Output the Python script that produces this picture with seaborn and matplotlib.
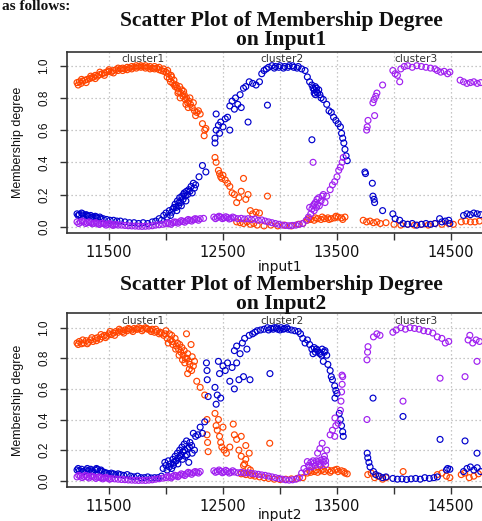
import matplotlib
matplotlib.use("Agg")
import matplotlib.pyplot as plt
import pandas as pd
import seaborn as sns

# ---------------- data ----------------
clusters = ["cluster1", "cluster2", "cluster3"]
palette = {"cluster1": "#FF4500", "cluster2": "#0000CD", "cluster3": "#A020F0"}
cluster_label_x = [11800, 13020, 14190]
x_ticks = [11500, 12000, 12500, 13000, 13500, 14000, 14500]
x_tick_labels = ["11500", "", "12500", "", "13500", "", "14500"]
y_ticks = [0.0, 0.2, 0.4, 0.6, 0.8, 1.0]
y_tick_labels = ["0.0", "0.2", "0.4", "0.6", "0.8", "1.0"]
panel_titles = ["Scatter Plot of Membership Degree\non Input1",
                "Scatter Plot of Membership Degree\non Input2"]
x_labels = ["input1", "input2"]
y_label = "Membership degree"

# Input1 panel
in1_c1 = [(11220, 0.895), (11240, 0.90), (11255, 0.89), (11270, 0.905), (11290, 0.91), (11310, 0.915),
          (11330, 0.92), (11350, 0.925), (11365, 0.93), (11380, 0.94), (11400, 0.935), (11420, 0.945),
          (11440, 0.95), (11460, 0.955), (11480, 0.96), (11500, 0.965), (11520, 0.96), (11540, 0.97),
          (11560, 0.975), (11580, 0.97), (11600, 0.98), (11620, 0.985), (11640, 0.98), (11660, 0.99),
          (11680, 0.985), (11700, 0.995), (11720, 0.99), (11740, 1.0), (11760, 0.995), (11780, 1.0),
          (11800, 0.995), (11820, 1.0), (11840, 0.99), (11860, 0.995), (11880, 0.985), (11900, 0.98),
          (11920, 0.985), (11940, 0.975), (11960, 0.97), (11980, 0.965), (12000, 0.96), (12010, 0.93),
          (12020, 0.95), (12030, 0.92), (12040, 0.90), (12050, 0.93), (12060, 0.89), (12070, 0.91),
          (12080, 0.87), (12090, 0.88), (12100, 0.86), (12110, 0.84), (12120, 0.87), (12130, 0.83),
          (12140, 0.85), (12150, 0.81), (12160, 0.82), (12170, 0.79), (12180, 0.80), (12190, 0.77),
          (12200, 0.78), (12215, 0.76), (12230, 0.74), (12250, 0.72), (12270, 0.71), (12300, 0.70),
          (12320, 0.64), (12340, 0.60), (12350, 0.61), (12335, 0.565), (12430, 0.43), (12440, 0.40),
          (12460, 0.35), (12470, 0.33), (12480, 0.31), (12490, 0.30), (12500, 0.32), (12520, 0.29),
          (12540, 0.27), (12560, 0.25), (12580, 0.21), (12600, 0.20), (12620, 0.15), (12640, 0.18),
          (12660, 0.22), (12680, 0.30), (12700, 0.17), (12720, 0.20), (12740, 0.10), (12760, 0.08),
          (12790, 0.09), (12820, 0.085), (12890, 0.19), (12620, 0.03), (12680, 0.02), (12740, 0.015),
          (12800, 0.01), (12860, 0.005), (12920, 0.01), (12980, 0.005), (13040, 0.01), (13100, 0.005),
          (13160, 0.015), (13200, 0.02), (13240, 0.04), (13270, 0.045), (13300, 0.04), (13330, 0.05),
          (13360, 0.045), (13390, 0.05), (13420, 0.055), (13450, 0.05), (13480, 0.055), (13510, 0.06),
          (13540, 0.055), (13570, 0.06), (13730, 0.04), (13760, 0.03), (13790, 0.035), (13820, 0.025),
          (13850, 0.03), (13880, 0.02), (13930, 0.025), (14000, 0.015), (14060, 0.01), (14120, 0.015),
          (14180, 0.01), (14240, 0.015), (14300, 0.01), (14360, 0.02), (14420, 0.015), (14480, 0.02),
          (14520, 0.015), (14590, 0.03), (14630, 0.035), (14670, 0.03), (14710, 0.03), (14750, 0.035),
          (11230, 0.88), (11260, 0.915), (11300, 0.895), (11340, 0.935), (11380, 0.92), (11420, 0.96),
          (11460, 0.94), (11500, 0.975), (11540, 0.955), (11580, 0.985), (11620, 0.97), (11660, 0.975),
          (11700, 0.98), (11740, 0.985), (11780, 0.99), (11820, 0.985), (11860, 0.98), (11900, 0.995),
          (11940, 0.99), (11980, 0.98), (12015, 0.97), (12045, 0.94), (12075, 0.88), (12105, 0.83),
          (12125, 0.80), (12155, 0.84), (12175, 0.76), (12195, 0.74), (12210, 0.80), (12240, 0.77),
          (12260, 0.69), (12285, 0.72), (12650, 0.025), (12710, 0.03), (12770, 0.02), (13250, 0.05),
          (13310, 0.055), (13370, 0.06), (13430, 0.045), (13490, 0.065), (13550, 0.045)]

in1_c2 = [(11220, 0.08), (11240, 0.075), (11260, 0.085), (11280, 0.07), (11300, 0.075), (11320, 0.065),
          (11340, 0.07), (11360, 0.06), (11380, 0.065), (11400, 0.055), (11420, 0.06), (11450, 0.05),
          (11480, 0.045), (11510, 0.04), (11540, 0.04), (11570, 0.035), (11600, 0.035), (11640, 0.03),
          (11680, 0.025), (11720, 0.025), (11760, 0.02), (11800, 0.025), (11840, 0.02), (11880, 0.03),
          (11910, 0.035), (11940, 0.05), (11960, 0.04), (11980, 0.07), (12000, 0.085), (12010, 0.06),
          (12030, 0.10), (12050, 0.09), (12060, 0.11), (12080, 0.14), (12090, 0.12), (12100, 0.16),
          (12110, 0.13), (12120, 0.18), (12130, 0.15), (12140, 0.19), (12150, 0.17), (12160, 0.21),
          (12170, 0.19), (12180, 0.22), (12200, 0.23), (12220, 0.25), (12240, 0.27), (12260, 0.26),
          (12290, 0.31), (12320, 0.38), (12350, 0.34), (12430, 0.52), (12430, 0.55), (12440, 0.60),
          (12440, 0.70), (12460, 0.63), (12470, 0.58), (12480, 0.65), (12500, 0.62), (12520, 0.67),
          (12540, 0.68), (12560, 0.60), (12560, 0.75), (12580, 0.78), (12600, 0.73), (12610, 0.80),
          (12630, 0.76), (12650, 0.82), (12660, 0.74), (12680, 0.86), (12700, 0.87), (12720, 0.65),
          (12730, 0.90), (12760, 0.89), (12790, 0.88), (12820, 0.90), (12840, 0.95), (12860, 0.97),
          (12880, 0.98), (12890, 0.755), (12900, 0.99), (12930, 1.0), (12960, 0.995), (13000, 1.0),
          (13040, 0.995), (13080, 1.0), (13120, 0.99), (13160, 0.995), (13190, 0.98), (13220, 0.97),
          (13240, 0.93), (13260, 0.90), (13280, 0.88), (13290, 0.86), (13300, 0.85), (13310, 0.87),
          (13320, 0.84), (13330, 0.83), (13350, 0.82), (13380, 0.79), (13410, 0.76), (13430, 0.72),
          (13450, 0.71), (13470, 0.68), (13490, 0.66), (13510, 0.64), (13530, 0.62), (13540, 0.58),
          (13550, 0.55), (13560, 0.52), (13570, 0.48), (13580, 0.44), (13590, 0.41), (13280, 0.54),
          (13745, 0.34), (13750, 0.33), (13810, 0.27), (13815, 0.19), (13825, 0.17), (13830, 0.15),
          (13900, 0.10), (13990, 0.08), (14010, 0.05), (14050, 0.04), (14080, 0.02), (14120, 0.015),
          (14160, 0.02), (14200, 0.01), (14240, 0.015), (14280, 0.02), (14320, 0.015), (14360, 0.02),
          (14400, 0.05), (14420, 0.03), (14450, 0.035), (14480, 0.04), (14490, 0.02), (14610, 0.07),
          (14640, 0.08), (14670, 0.075), (14700, 0.085), (14730, 0.08), (14760, 0.075),
          (11230, 0.07), (11270, 0.08), (11310, 0.07), (11350, 0.06), (11390, 0.06), (11430, 0.05),
          (12040, 0.07), (12070, 0.12), (12095, 0.10), (12115, 0.15), (12135, 0.13), (12155, 0.20),
          (12175, 0.16), (12190, 0.20), (12210, 0.22), (12230, 0.21), (12250, 0.24), (12950, 0.985),
          (12990, 0.99), (13030, 0.985), (13070, 0.99), (13110, 1.0), (13150, 0.985), (13300, 0.83),
          (13320, 0.86), (13340, 0.85), (13310, 0.82), (13360, 0.80)]

in1_c3 = [(11220, 0.03), (11250, 0.028), (11280, 0.03), (11310, 0.025), (11340, 0.025), (11370, 0.022),
          (11400, 0.02), (11430, 0.02), (11460, 0.018), (11490, 0.015), (11520, 0.015), (11550, 0.012),
          (11580, 0.01), (11610, 0.01), (11640, 0.008), (11670, 0.006), (11700, 0.005), (11730, 0.004),
          (11760, 0.003), (11790, 0.002), (11820, 0.003), (11850, 0.004), (11880, 0.006), (11910, 0.01),
          (11940, 0.012), (11970, 0.015), (12000, 0.018), (12030, 0.02), (12060, 0.025), (12090, 0.028),
          (12120, 0.03), (12150, 0.033), (12180, 0.037), (12210, 0.04), (12240, 0.043), (12270, 0.047),
          (12300, 0.05), (12330, 0.052), (12420, 0.06), (12450, 0.058), (12480, 0.06), (12510, 0.055),
          (12540, 0.057), (12570, 0.052), (12600, 0.055), (12630, 0.05), (12660, 0.052), (12690, 0.048),
          (12720, 0.05), (12750, 0.045), (12780, 0.048), (12810, 0.04), (12840, 0.042), (12870, 0.035),
          (12900, 0.03), (12930, 0.025), (12960, 0.02), (12990, 0.015), (13020, 0.01), (13050, 0.008),
          (13080, 0.006), (13110, 0.008), (13140, 0.01), (13170, 0.015), (13200, 0.02), (13230, 0.04),
          (13250, 0.06), (13270, 0.08), (13280, 0.11), (13290, 0.13), (13300, 0.10), (13310, 0.15),
          (13320, 0.12), (13330, 0.14), (13340, 0.18), (13360, 0.16), (13380, 0.20), (13410, 0.19),
          (13440, 0.23), (13460, 0.26), (13480, 0.28), (13500, 0.31), (13515, 0.35), (13530, 0.37),
          (13545, 0.40), (13555, 0.43), (13290, 0.40), (13760, 0.60), (13765, 0.62), (13772, 0.66),
          (13830, 0.69), (13815, 0.77), (13825, 0.79), (13840, 0.81), (13850, 0.83), (13900, 0.88),
          (13990, 0.97), (14010, 0.95), (14030, 0.94), (14050, 0.90), (14060, 0.98), (14090, 0.995),
          (14120, 1.0), (14160, 0.99), (14200, 1.0), (14240, 0.995), (14280, 0.99), (14320, 0.985),
          (14360, 0.98), (14380, 0.97), (14410, 0.96), (14440, 0.965), (14470, 0.95), (14490, 0.96),
          (14580, 0.91), (14610, 0.90), (14640, 0.89), (14670, 0.895), (14700, 0.90), (14730, 0.89),
          (14760, 0.895),
          (11235, 0.02), (11265, 0.035), (11295, 0.02), (11325, 0.03), (11355, 0.018), (11385, 0.025),
          (11415, 0.014), (11445, 0.022), (11475, 0.01), (11505, 0.02), (11535, 0.008), (11565, 0.015),
          (12015, 0.025), (12045, 0.015), (12075, 0.03), (12105, 0.022), (12135, 0.038), (12165, 0.028),
          (12195, 0.045), (12225, 0.035), (12255, 0.05), (12285, 0.04), (12435, 0.05), (12465, 0.065),
          (12495, 0.05), (12525, 0.062), (12555, 0.048), (12585, 0.06), (13260, 0.12), (13300, 0.14),
          (13325, 0.17), (13345, 0.13), (13370, 0.19), (13395, 0.15)]

# Input2 panel
in2_c1 = [(11220, 0.90), (11240, 0.91), (11260, 0.895), (11280, 0.90), (11300, 0.915), (11320, 0.905),
          (11340, 0.92), (11360, 0.91), (11380, 0.93), (11400, 0.935), (11420, 0.925), (11440, 0.94),
          (11460, 0.95), (11480, 0.945), (11500, 0.96), (11520, 0.955), (11540, 0.965), (11560, 0.975),
          (11580, 0.97), (11600, 0.98), (11620, 0.975), (11640, 0.985), (11660, 0.98), (11680, 0.99),
          (11700, 0.985), (11720, 0.995), (11740, 0.99), (11760, 1.0), (11780, 0.995), (11800, 0.99),
          (11820, 1.0), (11840, 0.99), (11860, 0.985), (11880, 0.99), (11900, 0.97), (11920, 0.975),
          (11940, 0.96), (11960, 0.965), (11980, 0.95), (12000, 0.98), (12010, 0.93), (12030, 0.96),
          (12040, 0.92), (12050, 0.95), (12060, 0.89), (12080, 0.93), (12090, 0.88), (12100, 0.90),
          (12110, 0.86), (12120, 0.89), (12130, 0.84), (12140, 0.87), (12150, 0.82), (12160, 0.85),
          (12170, 0.80), (12180, 0.96), (12190, 0.83), (12200, 0.78), (12210, 0.76), (12220, 0.89),
          (12230, 0.81), (12240, 0.75), (12190, 0.70), (12270, 0.65), (12300, 0.61), (12340, 0.56),
          (12360, 0.40), (12360, 0.30), (12365, 0.25), (12370, 0.19), (12430, 0.44), (12440, 0.36),
          (12450, 0.33), (12460, 0.40), (12470, 0.29), (12480, 0.25), (12490, 0.22), (12500, 0.35),
          (12510, 0.20), (12530, 0.18), (12560, 0.22), (12590, 0.37), (12600, 0.30), (12620, 0.27),
          (12640, 0.20), (12660, 0.16), (12680, 0.10), (12700, 0.14), (12660, 0.29), (12700, 0.23),
          (12730, 0.18), (12690, 0.11), (12720, 0.08), (12740, 0.07), (12910, 0.245), (12660, 0.045),
          (12700, 0.04), (12740, 0.035), (12780, 0.03), (12820, 0.025), (12860, 0.02), (12900, 0.015),
          (12950, 0.01), (13000, 0.008), (13050, 0.01), (13100, 0.012), (13150, 0.015), (13200, 0.02),
          (13240, 0.05), (13270, 0.055), (13300, 0.06), (13330, 0.055), (13360, 0.065), (13390, 0.06),
          (13420, 0.07), (13450, 0.065), (13480, 0.07), (13510, 0.06), (13540, 0.065), (13570, 0.05),
          (13590, 0.045), (13770, 0.04), (13800, 0.05), (13830, 0.02), (13860, 0.03), (13900, 0.01),
          (13930, 0.02), (14080, 0.06), (14380, 0.04), (14420, 0.05), (14460, 0.03), (14490, 0.02),
          (14590, 0.04), (14620, 0.05), (14660, 0.02), (14700, 0.03), (14740, 0.045),
          (11230, 0.89), (11270, 0.92), (11310, 0.895), (11350, 0.935), (11390, 0.915), (11430, 0.955),
          (11470, 0.935), (11510, 0.975), (11550, 0.95), (11590, 0.99), (11630, 0.965), (11670, 0.995),
          (11710, 0.975), (11750, 0.99), (11790, 0.98), (11830, 0.995), (11870, 0.975), (11910, 0.99),
          (11950, 0.97), (11990, 0.96), (12020, 0.90), (12055, 0.91), (12085, 0.86), (12115, 0.82),
          (12145, 0.79), (12165, 0.77), (12185, 0.80), (12205, 0.73), (12225, 0.72), (12250, 0.78),
          (12680, 0.05), (12760, 0.04), (13260, 0.065), (13320, 0.07), (13380, 0.075), (13440, 0.055),
          (13500, 0.075), (13560, 0.06)]

in2_c2 = [(11220, 0.07), (11240, 0.065), (11260, 0.075), (11280, 0.06), (11300, 0.07), (11320, 0.065),
          (11340, 0.075), (11360, 0.06), (11380, 0.07), (11400, 0.075), (11420, 0.065), (11440, 0.06),
          (11460, 0.055), (11480, 0.05), (11500, 0.045), (11520, 0.05), (11540, 0.045), (11560, 0.04),
          (11580, 0.045), (11600, 0.04), (11630, 0.035), (11660, 0.04), (11690, 0.03), (11720, 0.025),
          (11750, 0.03), (11780, 0.02), (11810, 0.02), (11840, 0.025), (11870, 0.018), (11900, 0.02),
          (11930, 0.02), (11960, 0.03), (11975, 0.08), (11990, 0.12), (12000, 0.10), (12010, 0.07),
          (12020, 0.13), (12030, 0.09), (12040, 0.11), (12050, 0.08), (12060, 0.14), (12070, 0.12),
          (12080, 0.16), (12090, 0.13), (12100, 0.18), (12110, 0.15), (12120, 0.20), (12130, 0.17),
          (12140, 0.22), (12150, 0.19), (12160, 0.24), (12170, 0.16), (12180, 0.26), (12190, 0.21),
          (12200, 0.12), (12210, 0.25), (12230, 0.18), (12240, 0.31), (12260, 0.29), (12280, 0.30),
          (12300, 0.35), (12320, 0.31), (12340, 0.385), (12355, 0.77), (12360, 0.72), (12362, 0.66),
          (12370, 0.55), (12430, 0.61), (12440, 0.50), (12450, 0.56), (12460, 0.78), (12470, 0.70),
          (12480, 0.54), (12500, 0.75), (12520, 0.72), (12540, 0.77), (12560, 0.65), (12580, 0.74),
          (12600, 0.60), (12620, 0.77), (12640, 0.66), (12600, 0.85), (12620, 0.88), (12650, 0.83),
          (12670, 0.90), (12680, 0.68), (12690, 0.93), (12710, 0.86), (12730, 0.95), (12737, 0.66),
          (12760, 0.96), (12780, 0.97), (12800, 0.98), (12830, 0.985), (12860, 0.99), (12890, 1.0),
          (12912, 0.70), (12920, 0.995), (12950, 1.0), (12980, 0.99), (13010, 1.0), (13040, 0.995),
          (13070, 0.99), (13100, 0.985), (13130, 0.98), (13160, 0.975), (13180, 0.96), (13200, 0.93),
          (13220, 0.90), (13240, 0.92), (13260, 0.89), (13280, 0.86), (13300, 0.87), (13310, 0.84),
          (13330, 0.85), (13350, 0.83), (13370, 0.86), (13390, 0.84), (13410, 0.82), (13380, 0.78),
          (13420, 0.76), (13440, 0.72), (13450, 0.68), (13460, 0.66), (13480, 0.62), (13490, 0.59),
          (13500, 0.57), (13482, 0.54), (13520, 0.44), (13530, 0.40), (13540, 0.36), (13550, 0.32),
          (13555, 0.29), (13765, 0.18), (13770, 0.15), (13780, 0.12), (13790, 0.09), (13816, 0.54),
          (14079, 0.42), (13820, 0.06), (13840, 0.04), (13870, 0.03), (13900, 0.02), (13930, 0.025),
          (13990, 0.015), (14030, 0.01), (14070, 0.012), (14110, 0.008), (14150, 0.012), (14190, 0.015),
          (14230, 0.01), (14270, 0.02), (14310, 0.015), (14350, 0.02), (14380, 0.025), (14404, 0.27),
          (14460, 0.07), (14470, 0.08), (14490, 0.075), (14623, 0.26), (14728, 0.18), (14610, 0.06),
          (14640, 0.08), (14670, 0.09), (14700, 0.07), (14730, 0.085), (14760, 0.06),
          (11230, 0.08), (11270, 0.06), (11310, 0.08), (11350, 0.065), (11390, 0.08), (11430, 0.07),
          (12065, 0.10), (12085, 0.13), (12105, 0.11), (12125, 0.16), (12145, 0.14), (12165, 0.20),
          (12185, 0.17), (12205, 0.22), (12225, 0.23), (12250, 0.20), (12900, 0.985), (12940, 0.99),
          (12970, 1.0), (13000, 0.985), (13030, 0.99), (13060, 1.0), (13290, 0.83), (13320, 0.86),
          (13345, 0.84), (13365, 0.82), (13395, 0.85)]

in2_c3 = [(11220, 0.025), (11250, 0.03), (11280, 0.028), (11310, 0.025), (11340, 0.03), (11370, 0.024),
          (11400, 0.022), (11430, 0.02), (11460, 0.018), (11490, 0.016), (11520, 0.014), (11550, 0.012),
          (11580, 0.01), (11610, 0.008), (11640, 0.007), (11670, 0.005), (11700, 0.004), (11730, 0.003),
          (11760, 0.002), (11790, 0.003), (11820, 0.002), (11850, 0.004), (11880, 0.006), (11910, 0.01),
          (11940, 0.013), (11970, 0.017), (12000, 0.02), (12030, 0.024), (12060, 0.028), (12090, 0.032),
          (12120, 0.036), (12150, 0.04), (12180, 0.045), (12210, 0.05), (12240, 0.052), (12270, 0.056),
          (12300, 0.06), (12420, 0.065), (12450, 0.06), (12480, 0.062), (12510, 0.058), (12540, 0.06),
          (12570, 0.055), (12600, 0.057), (12630, 0.052), (12660, 0.055), (12690, 0.05), (12720, 0.052),
          (12750, 0.048), (12780, 0.045), (12810, 0.042), (12840, 0.038), (12870, 0.035), (12900, 0.03),
          (12930, 0.025), (12960, 0.02), (12990, 0.015), (13020, 0.01), (13050, 0.006), (13080, 0.004),
          (13110, 0.006), (13140, 0.01), (13170, 0.02), (13190, 0.05), (13210, 0.08), (13230, 0.06),
          (13250, 0.10), (13270, 0.12), (13280, 0.09), (13300, 0.115), (13320, 0.13), (13340, 0.11),
          (13360, 0.135), (13380, 0.12), (13400, 0.13), (13330, 0.18), (13350, 0.21), (13370, 0.245),
          (13390, 0.16), (13410, 0.20), (13440, 0.30), (13460, 0.33), (13480, 0.29), (13490, 0.36),
          (13510, 0.376), (13482, 0.41), (13530, 0.46), (13535, 0.52), (13540, 0.58), (13545, 0.63),
          (13550, 0.68), (13544, 0.69), (13763, 0.79), (13768, 0.84), (13772, 0.876), (13763, 0.40),
          (13820, 0.94), (13850, 0.96), (13877, 0.95), (14079, 0.52), (13990, 0.97), (14020, 0.985),
          (14060, 1.0), (14100, 0.99), (14140, 1.0), (14180, 0.995), (14220, 0.99), (14260, 0.98),
          (14300, 0.975), (14340, 0.965), (14404, 0.67), (14380, 0.94), (14420, 0.93), (14450, 0.90),
          (14480, 0.91), (14623, 0.68), (14650, 0.92), (14665, 0.95), (14690, 0.90), (14720, 0.92),
          (14750, 0.91), (14728, 0.78),
          (11235, 0.035), (11265, 0.02), (11295, 0.035), (11325, 0.018), (11355, 0.028), (11385, 0.015),
          (11415, 0.025), (11445, 0.012), (11475, 0.022), (11505, 0.01), (12015, 0.03), (12045, 0.018),
          (12075, 0.036), (12105, 0.026), (12135, 0.045), (12165, 0.034), (12195, 0.055), (12225, 0.042),
          (12255, 0.06), (12285, 0.05), (12435, 0.055), (12465, 0.07), (12495, 0.052), (12525, 0.068),
          (12555, 0.05), (12585, 0.065), (13240, 0.125), (13260, 0.09), (13290, 0.13), (13310, 0.10),
          (13335, 0.125), (13355, 0.10), (13385, 0.14), (13400, 0.105)]

panels = [[in1_c1, in1_c2, in1_c3], [in2_c1, in2_c2, in2_c3]]


def to_frame(series_list):
    rows = []
    for name, pts in zip(clusters, series_list):
        for x, y in pts:
            rows.append({"x": x, "membership": y, "cluster": name})
    return pd.DataFrame(rows)


# ---------------- figure ----------------
sns.set_style("white")
plt.rcParams["font.family"] = ["Liberation Sans", "DejaVu Sans"]

W, H = 482, 521
fig = plt.figure(figsize=(W / 100, H / 100), dpi=100)


def px_box(left, top, right, bottom):
    return [left / W, 1 - bottom / H, (right - left) / W, (bottom - top) / H]


axes_boxes = [px_box(67, 52, 490, 233), px_box(67, 313, 490, 487)]
ylims = [(-0.039, 1.085), (-0.041, 1.096)]
title_y = [(26, 45), (290, 309)]
xlabel_y = [267, 515]
label_y_text = [1.04, 1.044]

for i in range(2):
    ax = fig.add_axes(axes_boxes[i])
    df = to_frame(panels[i])
    sns.scatterplot(data=df, x="x", y="membership", hue="cluster", hue_order=clusters,
                    palette=palette, s=18, linewidth=0.85, legend=False, ax=ax, zorder=3)
    coll = ax.collections[0]
    fc = coll.get_facecolors()
    coll.set_edgecolors(fc)
    coll.set_facecolors("none")

    ax.set_xlim(11132, 14842)
    ax.set_ylim(*ylims[i])
    ax.set_xticks(x_ticks)
    ax.set_xticklabels(x_tick_labels, fontsize=10.5, family="DejaVu Sans", color="#111111")
    ax.set_yticks(y_ticks)
    ax.set_yticklabels(y_tick_labels, rotation=90, va="center", fontsize=8.5, color="#111111")
    ax.tick_params(axis="x", length=5, width=1, color="#333333", pad=3.5, bottom=True)
    ax.tick_params(axis="y", length=5, width=1, color="#333333", pad=7, left=True)
    ax.grid(True, linestyle=(0, (1, 2.2)), color="#b5b5b5", linewidth=0.9, zorder=0)
    ax.set_axisbelow(True)
    for sp in ax.spines.values():
        sp.set_color("#333333")
        sp.set_linewidth(1.2)
    ax.set_xlabel("")
    ax.set_ylabel("")

    for name, cx in zip(clusters, cluster_label_x):
        ax.text(cx, label_y_text[i], name, ha="center", va="center", fontsize=7.7,
                family="DejaVu Sans", color="#333333", zorder=4)

    l1, l2 = panel_titles[i].split("\n")
    fig.text(281 / W, 1 - title_y[i][0] / H, l1, ha="center", va="baseline",
             fontsize=15.5, family="Liberation Serif", weight="bold", color="#111111")
    fig.text(281 / W, 1 - title_y[i][1] / H, l2, ha="center", va="baseline",
             fontsize=15.5, family="Liberation Serif", weight="bold", color="#111111")

    fig.text(280 / W, 1 - xlabel_y[i] / H, x_labels[i], ha="center", va="center",
             fontsize=10, family="DejaVu Sans", color="#111111")
    ymid = (axes_boxes[i][1] + axes_boxes[i][3] / 2)
    fig.text(18 / W, ymid, y_label, rotation=90, ha="center", va="center",
             fontsize=9, color="#111111")

# fragment of the surrounding document text (kept fully inside the picture)
fig.text(2 / W, 1 - 10 / H, "as follows:", ha="left", va="baseline", fontsize=11,
         family="Liberation Serif", weight="bold", color="#111111")

fig.savefig("out.png", dpi=100)
